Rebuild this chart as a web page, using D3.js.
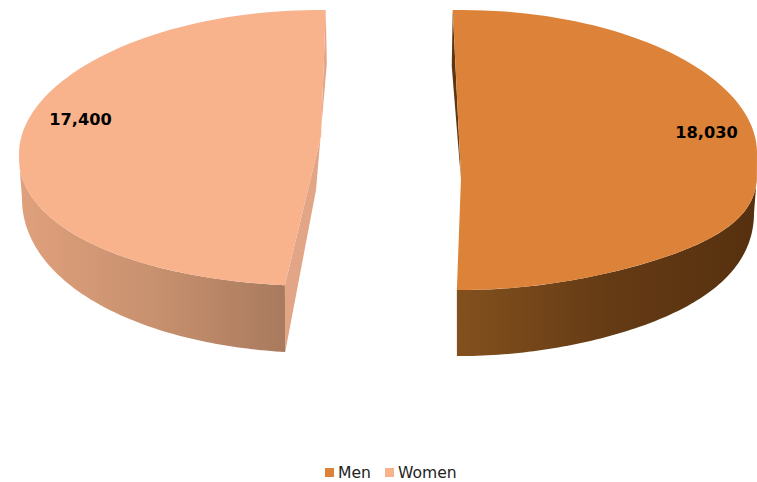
<!DOCTYPE html>
<html><head><meta charset="utf-8">
<script src="https://cdnjs.cloudflare.com/ajax/libs/d3/7.8.5/d3.min.js"></script>
<style>html,body{margin:0;background:#fff}svg{display:block}</style></head>
<body><svg id="c" width="757" height="482"></svg>
<script>
const categories = ["Men", "Women"];
const values = [18030, 17400];
const labels = ["18,030", "17,400"];
const topColors = ["#dc8339", "#f8b28c"];

const svg = d3.select("#c");
const defs = svg.append("defs");
const rad = d => d * Math.PI / 180;

// 3D projection settings per slice (angles in degrees clockwise from the top)
const layout = [
  {cx:461, cy:150, rx:296, ry:140, ub:3, lb:25, p:4,
   cy2:190, rx2:293, ry2:166, bb:23, p2:3,
   apexX:461, apexY:178, from:-1.6, to:180.8, wallFrom:90, wallTo:180.8,
   stops:["#82501d","#653b15","#56300f"], cut:"#5f3510", labelX:706.5, labelY:138},
  {cx:320, cy:148, rx:301, ry:138, ub:6, lb:10, p:2,
   cy2:190, rx2:298, ry2:163, bb:9, p2:2,
   apexX:321, apexY:136, from:186.7, to:361.1, wallFrom:186.7, wallTo:270,
   stops:["#e0a07c","#c8916f","#a97a5e"], cut:"#e2a586", labelX:80.5, labelY:125}
];

const angleScales = layout.map((l,i) => d3.scaleLinear().domain([0, values[i]]).range([l.from, l.to]));
const line = d3.line();
const onTop = (l,a,forceLower) => {
  const s = Math.sin(rad(a)), c = Math.cos(rad(a));
  const off = (forceLower || c < 0) ? l.lb*Math.pow(Math.abs(s),l.p) : l.ub*s*s;
  return [l.cx + l.rx*s, l.cy - l.ry*c + off];
};
const onBottom = (l,a) => {
  const s = Math.sin(rad(a)), c = Math.cos(rad(a));
  return [l.cx + l.rx2*s, l.cy2 - l.ry2*c + l.bb*Math.pow(Math.abs(s),l.p2)];
};
const sweep = (a,b) => d3.range(0,91).map(k => a + (b-a)*k/90);

categories.forEach((c,i) => {
  const l = layout[i], s = angleScales[i];
  const a0 = s(0), a1 = s(values[i]);
  const apex = [l.apexX, l.apexY];
  const g = svg.append("g").attr("class","slice");
  const grad = defs.append("linearGradient").attr("id","w"+i).attr("gradientUnits","userSpaceOnUse")
    .attr("x1", i===0 ? l.apexX : l.cx-l.rx).attr("x2", i===0 ? l.cx+l.rx : l.apexX-36).attr("y1",0).attr("y2",0);
  l.stops.forEach((col,k) => grad.append("stop").attr("offset",k/(l.stops.length-1)).attr("stop-color",col));

  // radial cut faces
  if (i===0) {
    const t = onTop(l,a0);
    g.append("path").attr("fill",l.cut).attr("d",line([t,[t[0]-1,t[1]+56],[apex[0],apex[1]+2]])+"Z");
  } else {
    const t0 = onTop(l,a0), t1 = onTop(l,a1);
    g.append("path").attr("fill",l.cut).attr("d",line([apex,t1,[t1[0]+1,t1[1]+54],[apex[0]-5,apex[1]+54],onBottom(l,a0),t0])+"Z");
  }
  // outer rim
  const rim = sweep(l.wallFrom,l.wallTo);
  g.append("path").attr("fill","url(#w"+i+")")
    .attr("d",line(rim.map(a=>onTop(l,a,true)).concat(rim.slice().reverse().map(a=>onBottom(l,a))))+"Z");
  // top face
  g.append("path").attr("fill",topColors[i])
    .attr("d",line([apex].concat(sweep(a0,a1).map(a=>onTop(l,a))))+"Z");
  g.append("text").attr("x",l.labelX).attr("y",l.labelY).attr("text-anchor","middle")
    .attr("font-family","'DejaVu Sans',Verdana,sans-serif").attr("font-weight","bold").attr("font-size",16.2)
    .attr("fill","#000").text(labels[i]);
});

// legend
const legendX = d3.scaleOrdinal().domain(categories).range([325,385]);
const leg = svg.append("g").attr("class","legend");
categories.forEach((c,i) => {
  leg.append("rect").attr("x",legendX(c)).attr("y",468).attr("width",9).attr("height",9).attr("fill",topColors[i]);
  leg.append("text").attr("x",legendX(c)+13).attr("y",478)
    .attr("font-family","'DejaVu Sans',Verdana,sans-serif").attr("font-size",15.6).attr("fill","#222").text(c);
});
</script></body></html>
